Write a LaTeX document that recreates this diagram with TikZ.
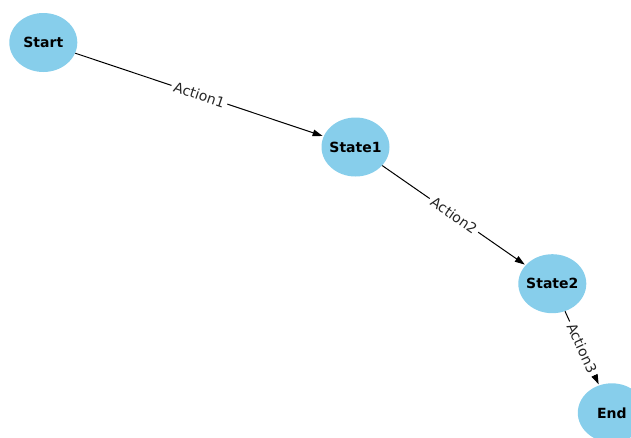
\documentclass[tikz,border=0pt]{standalone}
\usepackage{fontspec}
\setmainfont{DejaVu Sans}
\usetikzlibrary{arrows.meta,shapes.geometric}
\definecolor{nodeblue}{HTML}{87CEEB}
\begin{document}
\begin{tikzpicture}[x=1pt,y=-1pt,
  statenode/.style={ellipse,fill=nodeblue,minimum width=68pt,minimum height=59pt,inner xsep=-10pt,inner ysep=0pt,font=\bfseries\fontsize{14}{16}\selectfont},
  edgeline/.style={draw=black,line width=1pt,-{Triangle[length=10pt,width=6.5pt]},shorten >=1pt},
  edgelabel/.style={fill=white,inner sep=3pt,sloped,font=\fontsize{14}{16}\selectfont,text=black!85}]
\useasboundingbox (0,0) rectangle (631,437);
\clip (0,0) rectangle (631,437);
\node[statenode] (start) at (43.3,42.5) {Start};
\node[statenode] (s1) at (355.5,147) {State1};
\node[statenode] (s2) at (552.3,283.7) {State2};
\node[statenode] (end) at (611.8,412.8) {End};
\draw[edgeline] (start) -- node[edgelabel] {Action1} (s1);
\draw[edgeline] (s1) -- node[edgelabel] {Action2} (s2);
\draw[edgeline] (s2) -- node[edgelabel] {Action3} (end);
\end{tikzpicture}
\end{document}
